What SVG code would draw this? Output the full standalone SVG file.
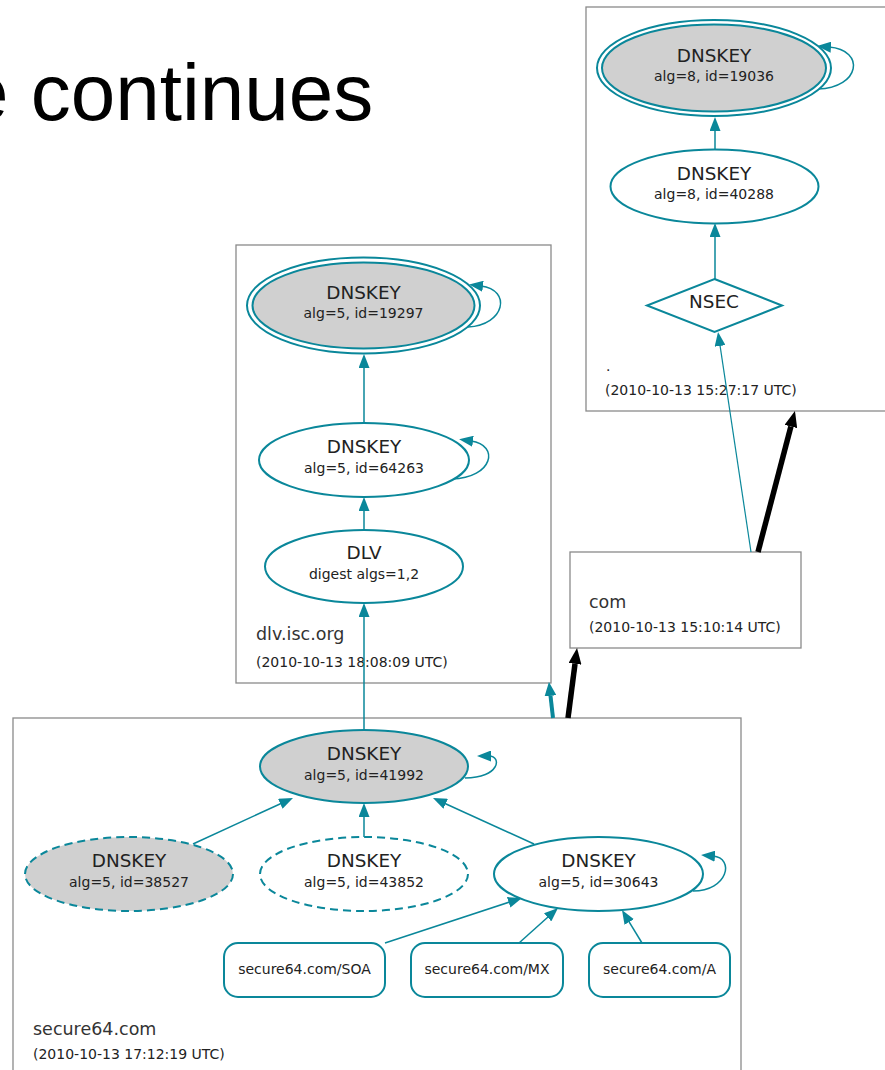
<svg xmlns="http://www.w3.org/2000/svg" width="885" height="1070" viewBox="0 0 885 1070">
<style>
.box{fill:#fff;stroke:#8a8a8a;stroke-width:1.3}
.n{stroke:#0a879a;stroke-width:2;fill:#fff}
.g{fill:#d0d0d0}
.d{stroke-dasharray:8 5}
.e{stroke:#0a879a;stroke-width:1.5;fill:none;marker-end:url(#ah)}
.t1{font-family:"DejaVu Sans",Verdana,sans-serif;font-size:18.4px;fill:#222;text-anchor:middle}
.t2{font-family:"DejaVu Sans",Verdana,sans-serif;font-size:14px;fill:#222;text-anchor:middle}
.zl{font-family:"DejaVu Sans",Verdana,sans-serif;font-size:17.5px;fill:#333}
.zt{font-family:"DejaVu Sans",Verdana,sans-serif;font-size:14px;fill:#222}
.title{font-family:"Liberation Sans",Arial,sans-serif;font-size:80px;fill:#000}
</style>
<defs>
<marker id="ah" markerUnits="userSpaceOnUse" markerWidth="14" markerHeight="11" viewBox="0 0 14 11" refX="2" refY="5.5" orient="auto">
<path d="M0,0 L14,5.5 L0,11 z" fill="#0a879a"/>
</marker>
<marker id="ahk" markerUnits="userSpaceOnUse" markerWidth="16" markerHeight="13" viewBox="0 0 16 13" refX="0" refY="6.5" orient="auto">
<path d="M0,0 L16,6.5 L0,13 z" fill="#000"/>
</marker>
<marker id="aht" markerUnits="userSpaceOnUse" markerWidth="14" markerHeight="12" viewBox="0 0 14 12" refX="0" refY="6" orient="auto">
<path d="M0,0 L14,6 L0,12 z" fill="#0a879a"/>
</marker>
</defs>

<text class="title" x="-36" y="120">e continues</text>

<g id="zone-root">
<rect class="box" x="586" y="7" width="310" height="404"/>
<text class="zt" x="606" y="371">.</text>
<text class="zt" x="605" y="395">(2010-10-13 15:27:17 UTC)</text>
</g>
<g id="zone-dlv">
<rect class="box" x="236" y="245" width="315" height="438"/>
<text class="zl" x="256" y="640">dlv.isc.org</text>
<text class="zt" x="256" y="667">(2010-10-13 18:08:09 UTC)</text>
</g>
<g id="zone-com">
<rect class="box" x="570" y="552" width="231" height="96"/>
<text class="zl" x="589" y="608">com</text>
<text class="zt" x="589" y="632">(2010-10-13 15:10:14 UTC)</text>
</g>
<g id="zone-secure64">
<rect class="box" x="13" y="718" width="728" height="370"/>
<text class="zl" x="33" y="1035">secure64.com</text>
<text class="zt" x="33" y="1059">(2010-10-13 17:12:19 UTC)</text>
</g>

<g id="connectors">
<path class="e" d="M715,150 L715,129"/>
<path class="e" d="M715,279 L715,235"/>
<path class="e" style="stroke-width:1.2" d="M751,552 L719.8,343.9"/>
<path class="e" d="M818,89 C860,88 866,50 829,47"/>
<path class="e" d="M364,423 L364,366"/>
<path class="e" d="M364,530 L364,509"/>
<path class="e" d="M364,730 L364,615"/>
<path class="e" d="M468,327 C505,325 512,290 481,286"/>
<path class="e" d="M452,479 C493,478 500,445 471,441"/>
<path class="e" d="M193,844 L282.1,803"/>
<path class="e" d="M364,837 L364,815"/>
<path class="e" d="M534,844 L443.9,803"/>
<path class="e" d="M465,778 C500,778 502,756 489,756"/>
<path class="e" d="M693,891 C728,891 735,858 713,856"/>
<path class="e" d="M385,943 L510.6,901.7"/>
<path class="e" d="M519,943 L549.1,916"/>
<path class="e" d="M642,943 L628.2,920.3"/>
<path d="M758,552 L790.9,426.5" stroke="#000" stroke-width="5.5" fill="none" marker-end="url(#ahk)"/>
<path d="M568,718 L575,663.9" stroke="#000" stroke-width="5.5" fill="none" marker-end="url(#ahk)"/>
<path d="M553,718 L550.5,695.9" stroke="#0a879a" stroke-width="4" fill="none" marker-end="url(#aht)"/>
</g>

<g id="dnskey-19036">
<ellipse class="n" cx="714" cy="68" rx="117" ry="48"/>
<ellipse class="n g" cx="714" cy="68" rx="112" ry="43.5"/>
<text class="t1" x="714" y="62">DNSKEY</text>
<text class="t2" x="714" y="81">alg=8, id=19036</text>
</g>
<g id="dnskey-40288">
<ellipse class="n" cx="714.5" cy="186.5" rx="104" ry="37"/>
<text class="t1" x="714" y="180">DNSKEY</text>
<text class="t2" x="714" y="198.5">alg=8, id=40288</text>
</g>
<g id="nsec">
<polygon class="n" points="714.5,279 782,305.5 714.5,332 647,305.5"/>
<text class="t1" x="714" y="308">NSEC</text>
</g>
<g id="dnskey-19297">
<ellipse class="n" cx="363.5" cy="305.5" rx="116.5" ry="48"/>
<ellipse class="n g" cx="363.5" cy="305.5" rx="111" ry="43"/>
<text class="t1" x="363.5" y="299">DNSKEY</text>
<text class="t2" x="363.5" y="317.5">alg=5, id=19297</text>
</g>
<g id="dnskey-64263">
<ellipse class="n" cx="364" cy="460" rx="105" ry="37"/>
<text class="t1" x="364" y="453">DNSKEY</text>
<text class="t2" x="364" y="473">alg=5, id=64263</text>
</g>
<g id="dlv">
<ellipse class="n" cx="364" cy="566.5" rx="99" ry="36.5"/>
<text class="t1" x="364" y="559">DLV</text>
<text class="t2" x="364" y="579">digest algs=1,2</text>
</g>
<g id="dnskey-41992">
<ellipse class="n g" cx="364" cy="766.5" rx="104" ry="36.5"/>
<text class="t1" x="364" y="760">DNSKEY</text>
<text class="t2" x="364" y="780">alg=5, id=41992</text>
</g>
<g id="dnskey-38527">
<ellipse class="n g d" cx="129" cy="874" rx="104" ry="37"/>
<text class="t1" x="129" y="867">DNSKEY</text>
<text class="t2" x="129" y="887">alg=5, id=38527</text>
</g>
<g id="dnskey-43852">
<ellipse class="n d" cx="364" cy="874" rx="104" ry="37"/>
<text class="t1" x="364" y="867">DNSKEY</text>
<text class="t2" x="364" y="887">alg=5, id=43852</text>
</g>
<g id="dnskey-30643">
<ellipse class="n" cx="598.5" cy="874" rx="104.5" ry="37"/>
<text class="t1" x="598.5" y="867">DNSKEY</text>
<text class="t2" x="598.5" y="887">alg=5, id=30643</text>
</g>
<g id="rr-soa">
<rect class="n" x="224" y="943" width="161" height="54" rx="14"/>
<text class="t2" x="304.5" y="974">secure64.com/SOA</text>
</g>
<g id="rr-mx">
<rect class="n" x="411" y="943" width="152" height="54" rx="14"/>
<text class="t2" x="487" y="974">secure64.com/MX</text>
</g>
<g id="rr-a">
<rect class="n" x="589" y="943" width="141" height="54" rx="14"/>
<text class="t2" x="659.5" y="974">secure64.com/A</text>
</g>
</svg>
